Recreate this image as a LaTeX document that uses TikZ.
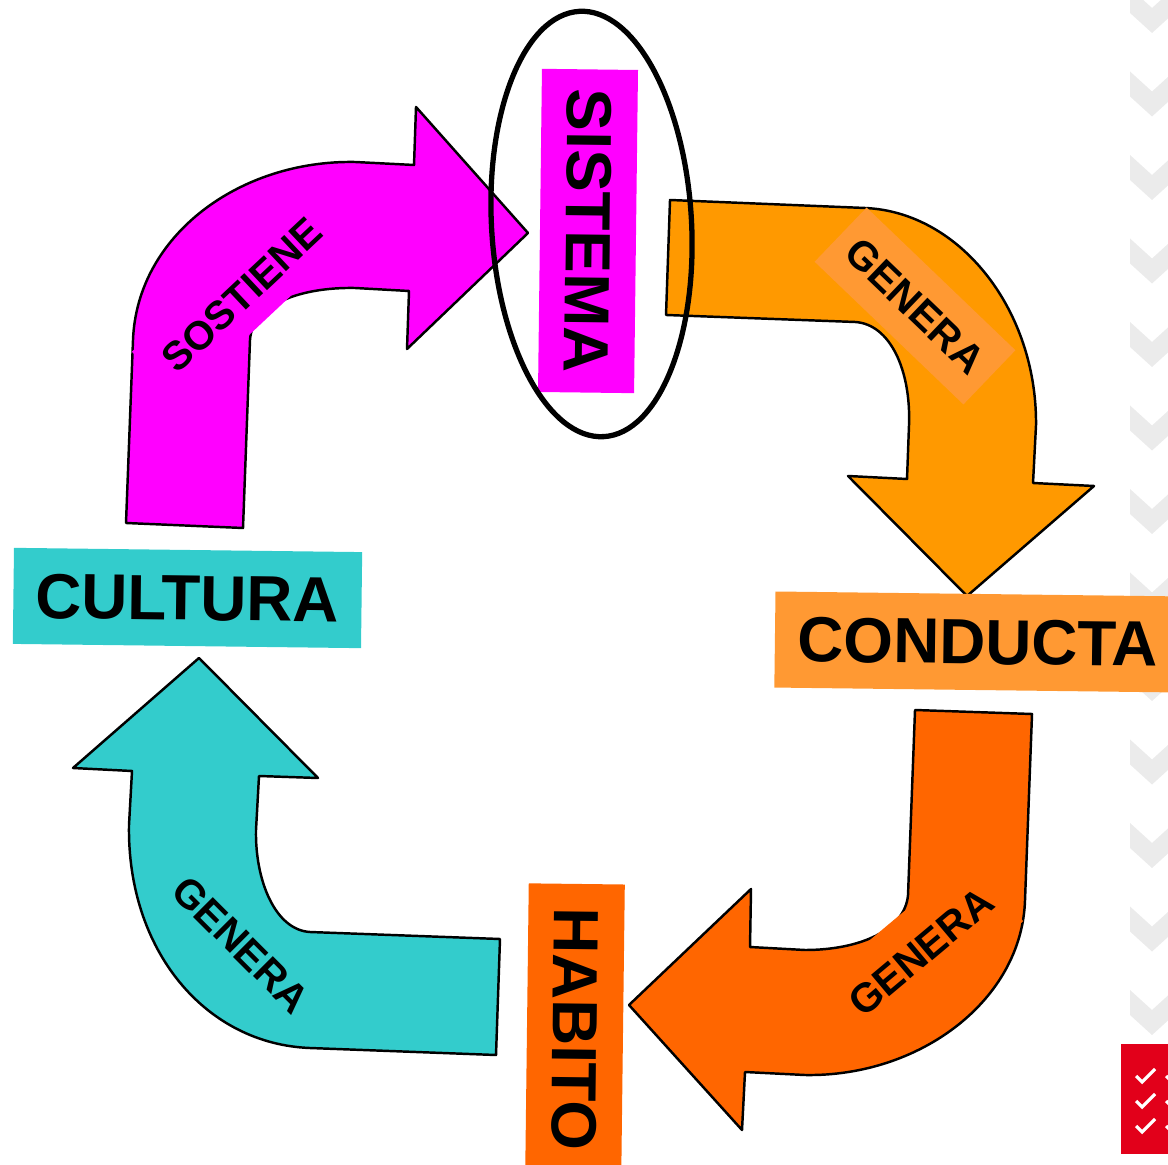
\documentclass[tikz,border=0pt]{standalone}
\usepackage{fontspec}
\setmainfont{Liberation Sans}
\usetikzlibrary{shapes.geometric, positioning, calc}
\definecolor{sosten}{HTML}{FF00FF}
\definecolor{genera}{HTML}{FF9900}
\definecolor{conducta}{HTML}{FF9933}
\definecolor{habito}{HTML}{FF6600}
\definecolor{cultura}{HTML}{33CCCC}
\definecolor{chevron}{HTML}{EBEBEB}
\definecolor{badge}{HTML}{E2001A}
\tikzset{%
  flecha/.style = {draw=black, line width=0.7pt, line join=round},
  bigLabel/.style = {inner sep=0pt, align=center, text=black,
                     font=\bfseries\fontsize{18.15}{18.3}\selectfont},
  arcLabel/.style = {inner sep=0pt, align=center, text=black,
                     font=\bfseries\fontsize{11.6}{12}\selectfont},
  focus/.style = {draw=black, line width=1.5pt},
  tick/.style = {draw=white, line width=0.9pt}
  }

\begin{document}
\begin{tikzpicture}[x=0.01cm, y=-0.01cm]
    \useasboundingbox (0,0) rectangle (1168,1165);

    % column of marks on the right edge
    \foreach \k in {0,...,12} {
      \pgfmathsetmacro{\tip}{33+83.5*\k}
      \fill[chevron] (1130,\tip-45) -- (1152,\tip-25) -- (1174,\tip-45)
        -- (1174,\tip-20) -- (1152,\tip) -- (1130,\tip-20) -- cycle;
    }

    % the badge in the corner
    \fill[badge] (1121,1044) rectangle (1168,1154);
    \foreach \y in {0,25,50} {
      \foreach \x in {0,30} {
        \draw[tick] (1136+\x,1076+\y) -- (1142+\x,1082+\y) -- (1155+\x,1069+\y);
      }
    }

    % the four arrows
    \path[flecha, fill=sosten] (126,523) -- (133,340)
        .. controls (137,235) and (240,160) .. (355,162) -- (414,165) -- (416,107)
        -- (528,233) -- (407,349) -- (409,291) -- (355,288)
        .. controls (300,287) and (252,305) .. (250,340) -- (243,528) -- cycle;
    \path[flecha, fill=genera] (670,200) -- (865,208)
        .. controls (960,212) and (1037,310) .. (1036,425) -- (1033,483) -- (1094,486)
        -- (967,596) -- (848,476) -- (907,479) -- (909,425)
        .. controls (911,370) and (890,324) .. (855,322) -- (666,315) -- cycle;
    \path[flecha, fill=habito] (915,710) -- (1032,714) -- (1025,900)
        .. controls (1022,1000) and (920,1077) .. (805,1075) -- (745,1072) -- (742,1130)
        -- (629,1005) -- (751,889) -- (750,947) -- (805,950)
        .. controls (860,950) and (905,930) .. (908,895) -- cycle;
    \path[flecha, fill=cultura] (500,939) -- (496,1055) -- (310,1048)
        .. controls (205,1044) and (127,950) .. (129,825) -- (132,771) -- (73,768)
        -- (199,658) -- (318,778) -- (259,776) -- (256,830)
        .. controls (255,880) and (275,930) .. (310,932) -- cycle;

    % words on the arrows
    \node (sostiene) [arcLabel, fill=sosten, minimum width=2.38cm, minimum height=0.68cm, rotate=43.2,
                      font=\bfseries\fontsize{11.4}{12}\selectfont] at (242,295) {SOSTIENE};
    \node (generaA) [arcLabel, fill=conducta, minimum width=2.06cm, minimum height=0.75cm, rotate=-43.8] at (915,306) {GENERA};
    \node (generaB) [arcLabel, fill=habito, minimum width=1.96cm, minimum height=0.84cm, rotate=40] at (921,952) {GENERA};
    \node (generaC) [arcLabel, fill=cultura, minimum width=2.06cm, minimum height=0.74cm, rotate=-45] at (241,945) {GENERA};

    % the four stations
    \node (sistema) [bigLabel, fill=sosten, minimum width=3.23cm, minimum height=0.96cm, rotate=-90.7] at (588,231) {SISTEMA};
    \node (conducta) [bigLabel, fill=conducta, minimum width=4.06cm, minimum height=0.96cm, rotate=-0.7] at (978,642) {CONDUCTA};
    \node (habito) [bigLabel, fill=habito, minimum width=2.90cm, minimum height=0.96cm, rotate=-90.7] at (575,1029) {HABITO};
    \node (cultura) [bigLabel, fill=cultura, minimum width=3.48cm, minimum height=0.96cm, rotate=-0.7] at (187.5,598) {CULTURA};

    \draw[focus] (591.5,224) ellipse [x radius=100, y radius=213, rotate=3.3];
\end{tikzpicture}
\end{document}
